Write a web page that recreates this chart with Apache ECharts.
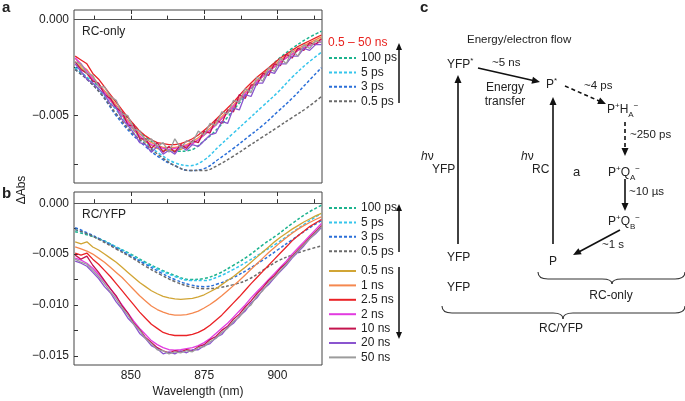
<!DOCTYPE html>
<html><head><meta charset="utf-8">
<script src="https://cdn.jsdelivr.net/npm/echarts@6/dist/echarts.min.js"></script>
<style>html,body{margin:0;padding:0;background:#fff}#c{width:685px;height:401px}</style>
</head><body><div id="c"></div><script>
// ---------- data ----------
const wl = [831,833,835,837,839,841,843,845,847,849,851,853,855,857,859,861,863,865,867,869,871,873,875,877,879,881,883,885,887,889,891,893,895,897,899,901,903,905,907,909,911,913,915];
const wlC = [831,835,840,845,850,855,860,865,870,875,880,885,890,895,900,905,910,915];

// panel a (RC-only) – solid 0.5–50 ns
const aGold = [-0.0022,-0.0025,-0.0028,-0.0031,-0.0034,-0.0038,-0.0042,-0.0046,-0.0050,-0.0054,-0.00575,-0.0061,-0.00635,-0.00655,-0.0067,-0.0068,-0.0068,-0.0068,-0.00675,-0.0066,-0.00645,-0.00625,-0.0060,-0.00575,-0.00545,-0.00515,-0.00485,-0.00455,-0.0042,-0.00385,-0.00355,-0.00325,-0.00295,-0.0027,-0.00245,-0.0022,-0.0020,-0.0018,-0.0016,-0.00145,-0.0013,-0.00115,-0.0010];
const aOrange = [-0.0020,-0.0024,-0.0026,-0.0030,-0.00335,-0.0037,-0.00405,-0.00445,-0.00485,-0.00525,-0.0056,-0.00595,-0.0062,-0.0064,-0.00655,-0.00665,-0.00665,-0.00665,-0.0066,-0.0065,-0.00635,-0.00615,-0.0059,-0.00565,-0.00535,-0.00505,-0.00475,-0.00445,-0.0041,-0.00375,-0.00345,-0.00315,-0.00285,-0.0026,-0.00235,-0.0021,-0.0019,-0.0017,-0.0015,-0.00135,-0.0012,-0.00105,-0.0009];
const aRed = [-0.0019,-0.0021,-0.0023,-0.0028,-0.0031,-0.0035,-0.0039,-0.0043,-0.0047,-0.0051,-0.00545,-0.0058,-0.00605,-0.00625,-0.0064,-0.00645,-0.0065,-0.0065,-0.00645,-0.00635,-0.0062,-0.0060,-0.00575,-0.0055,-0.0052,-0.0049,-0.0046,-0.0043,-0.00395,-0.0036,-0.0033,-0.0030,-0.00275,-0.0025,-0.00225,-0.0020,-0.0018,-0.0016,-0.0014,-0.00125,-0.0011,-0.00095,-0.0008];
const aMagenta = [-0.0020,-0.0023,-0.0027,-0.0031,-0.0034,-0.0038,-0.0042,-0.00455,-0.00495,-0.00535,-0.0057,-0.00605,-0.0063,-0.0065,-0.0066,-0.0067,-0.00675,-0.0067,-0.00665,-0.00655,-0.00645,-0.00625,-0.0060,-0.00575,-0.0055,-0.00515,-0.00485,-0.0045,-0.0042,-0.00385,-0.00355,-0.00325,-0.00295,-0.0027,-0.00245,-0.0022,-0.0020,-0.0018,-0.0016,-0.00145,-0.00135,-0.00125,-0.00115];
const aCrimson = [-0.0022,-0.0026,-0.0028,-0.0032,-0.0033,-0.0039,-0.0041,-0.0046,-0.0048,-0.0055,-0.0055,-0.0062,-0.0062,-0.0067,-0.0064,-0.0069,-0.0066,-0.0069,-0.0065,-0.0067,-0.0063,-0.0064,-0.0058,-0.0059,-0.0052,-0.0054,-0.0047,-0.0048,-0.0039,-0.0041,-0.0034,-0.0034,-0.0028,-0.0029,-0.0023,-0.0024,-0.0018,-0.0020,-0.0015,-0.0016,-0.0012,-0.0013,-0.0010];
const aPurple = [-0.0023,-0.0027,-0.0031,-0.0033,-0.0036,-0.0039,-0.0044,-0.0046,-0.0052,-0.0055,-0.0059,-0.0064,-0.0065,-0.0069,-0.0066,-0.0070,-0.0068,-0.0070,-0.0066,-0.0068,-0.0065,-0.0066,-0.0063,-0.0060,-0.0059,-0.0053,-0.0054,-0.0046,-0.0047,-0.0039,-0.0040,-0.0033,-0.0033,-0.0027,-0.0028,-0.0023,-0.0023,-0.0019,-0.0019,-0.0015,-0.0016,-0.0013,-0.0013];
const aGray = [-0.0022,-0.0023,-0.0028,-0.0029,-0.0035,-0.0035,-0.0040,-0.0042,-0.0049,-0.0050,-0.0057,-0.0058,-0.0063,-0.0062,-0.0066,-0.0064,-0.0069,-0.0062,-0.0067,-0.0063,-0.0064,-0.0058,-0.0060,-0.0054,-0.0055,-0.0048,-0.0049,-0.0042,-0.0043,-0.0036,-0.0038,-0.0030,-0.0032,-0.0025,-0.0027,-0.0020,-0.0023,-0.0016,-0.0019,-0.0013,-0.0015,-0.0011,-0.0012];
// panel a – dashed ps traces (on wlC)
const a100ps = [-0.0025,-0.0030,-0.0036,-0.0045,-0.0053,-0.0061,-0.0066,-0.00685,-0.0068,-0.0063,-0.0056,-0.0047,-0.0038,-0.0029,-0.0021,-0.0015,-0.0010,-0.0006];
const a5ps = [-0.0025,-0.0030,-0.0038,-0.0047,-0.0056,-0.0064,-0.0070,-0.00745,-0.0076,-0.0073,-0.0066,-0.0059,-0.0052,-0.0045,-0.0038,-0.0030,-0.0023,-0.0017];
const a3ps = [-0.0026,-0.0031,-0.0039,-0.0050,-0.0059,-0.0066,-0.0072,-0.0076,-0.00785,-0.00775,-0.00725,-0.0067,-0.0061,-0.0055,-0.0048,-0.0041,-0.0033,-0.0025];
const a05ps = [-0.0026,-0.0031,-0.0039,-0.0049,-0.0058,-0.0065,-0.0071,-0.0076,-0.00785,-0.00785,-0.00755,-0.0071,-0.0066,-0.0061,-0.0056,-0.0051,-0.0046,-0.0040];

// panel b (RC/YFP) – dashed ps traces (on wlC)
const b100ps = [-0.0028,-0.0031,-0.0036,-0.0043,-0.0050,-0.0058,-0.0065,-0.0071,-0.0075,-0.0074,-0.0069,-0.0061,-0.0052,-0.0041,-0.0031,-0.0020,-0.0010,-0.0002];
const b5ps = [-0.0026,-0.0030,-0.0036,-0.0043,-0.0051,-0.0059,-0.0066,-0.0072,-0.0076,-0.0076,-0.0072,-0.0065,-0.0057,-0.0048,-0.0039,-0.0029,-0.0019,-0.0010];
const b3ps = [-0.0024,-0.0029,-0.0036,-0.0044,-0.0052,-0.0060,-0.0068,-0.0075,-0.0080,-0.0082,-0.0079,-0.0073,-0.0065,-0.0056,-0.0046,-0.0036,-0.0026,-0.0017];
const b05ps = [-0.0026,-0.0030,-0.0037,-0.0045,-0.0053,-0.0062,-0.0070,-0.0077,-0.0082,-0.0084,-0.0083,-0.0080,-0.0075,-0.0066,-0.0057,-0.0051,-0.0046,-0.0042];
// panel b – solid ns traces (on wl)
const bGold = [-0.0038,-0.0040,-0.0038,-0.0043,-0.0046,-0.0050,-0.0054,-0.0058,-0.0063,-0.0068,-0.0073,-0.0078,-0.0082,-0.0086,-0.0089,-0.00915,-0.0093,-0.0094,-0.00945,-0.0094,-0.00935,-0.0092,-0.0090,-0.0087,-0.0084,-0.0080,-0.0076,-0.0072,-0.00675,-0.0063,-0.0058,-0.0053,-0.0048,-0.0043,-0.0038,-0.00335,-0.00295,-0.00255,-0.0022,-0.00185,-0.00155,-0.00125,-0.0010];
const bOrange = [-0.0043,-0.0045,-0.0047,-0.0050,-0.0054,-0.0058,-0.0063,-0.0068,-0.0073,-0.0079,-0.0085,-0.0091,-0.0096,-0.0101,-0.01045,-0.0107,-0.0109,-0.0110,-0.0110,-0.01095,-0.0108,-0.0106,-0.0103,-0.00995,-0.00955,-0.0091,-0.0086,-0.0081,-0.0076,-0.00705,-0.0065,-0.00595,-0.0054,-0.00485,-0.00435,-0.00385,-0.0034,-0.00295,-0.00255,-0.0022,-0.0019,-0.0016,-0.00135];
const bRed = [-0.0049,-0.0051,-0.0049,-0.0055,-0.0060,-0.0066,-0.0072,-0.0079,-0.0086,-0.0093,-0.0100,-0.0107,-0.0113,-0.0119,-0.0123,-0.0127,-0.0129,-0.0130,-0.0130,-0.0130,-0.0129,-0.0127,-0.0124,-0.0120,-0.0115,-0.0110,-0.0104,-0.0098,-0.0092,-0.00855,-0.0079,-0.0073,-0.0067,-0.0061,-0.0055,-0.0049,-0.0043,-0.0037,-0.0032,-0.00275,-0.0023,-0.00195,-0.0016];
const bMagenta = [-0.0054,-0.0056,-0.0059,-0.0064,-0.0070,-0.0077,-0.0084,-0.0092,-0.0100,-0.0108,-0.0116,-0.0123,-0.0129,-0.0135,-0.0139,-0.0142,-0.0144,-0.01445,-0.0144,-0.0143,-0.0142,-0.0140,-0.0137,-0.0133,-0.0128,-0.0123,-0.0118,-0.0112,-0.0106,-0.0100,-0.0093,-0.0087,-0.0081,-0.0075,-0.0069,-0.0063,-0.0057,-0.0050,-0.0044,-0.0038,-0.0032,-0.0026,-0.0020];
const bCrimson = [-0.0051,-0.0055,-0.0052,-0.0061,-0.0068,-0.0076,-0.0084,-0.0091,-0.0101,-0.0108,-0.0118,-0.0124,-0.0132,-0.0137,-0.0142,-0.0145,-0.0147,-0.0145,-0.0146,-0.0144,-0.0145,-0.0141,-0.0139,-0.0134,-0.0131,-0.0125,-0.0121,-0.0114,-0.0109,-0.0102,-0.0096,-0.0089,-0.0083,-0.0076,-0.0071,-0.0064,-0.0059,-0.0052,-0.0046,-0.0040,-0.0034,-0.0028,-0.0022];
const bPurple = [-0.0057,-0.0059,-0.0062,-0.0068,-0.0074,-0.0082,-0.0088,-0.0097,-0.0104,-0.0113,-0.0119,-0.0128,-0.0133,-0.0140,-0.0143,-0.0148,-0.0146,-0.0148,-0.0145,-0.0147,-0.0144,-0.0144,-0.0140,-0.0138,-0.0132,-0.0129,-0.0122,-0.0118,-0.0111,-0.0106,-0.0098,-0.0093,-0.0085,-0.0080,-0.0073,-0.0067,-0.0061,-0.0054,-0.0048,-0.0042,-0.0035,-0.0030,-0.0024];
const bGray = [-0.0055,-0.0058,-0.0060,-0.0066,-0.0072,-0.0079,-0.0087,-0.0094,-0.0103,-0.0110,-0.0119,-0.0125,-0.0133,-0.0138,-0.0144,-0.0145,-0.0148,-0.0146,-0.0147,-0.0145,-0.0146,-0.0142,-0.0141,-0.0136,-0.0133,-0.0127,-0.0123,-0.0116,-0.0112,-0.0104,-0.0100,-0.0091,-0.0086,-0.0078,-0.0073,-0.0066,-0.0060,-0.0053,-0.0047,-0.0041,-0.0035,-0.0029,-0.0023];

// tick values
const xLabels = [850, 875, 900];
const xTicksBottom = [837.5, 850, 862.5, 875, 887.5, 900, 912.5];
const yLabelsA = [0, -0.005];
const yTicksA = [0, -0.0025, -0.005, -0.0075];
const yLabelsB = [0, -0.005, -0.010, -0.015];
const yTicksB = [0, -0.0025, -0.005, -0.0075, -0.010, -0.0125, -0.015];

const psNames = ['100 ps', '5 ps', '3 ps', '0.5 ps'];
const nsNames = ['0.5 ns', '1 ns', '2.5 ns', '2 ns', '10 ns', '20 ns', '50 ns'];

// ---------- styling ----------
const FONT = '"Liberation Sans", Arial, Helvetica, sans-serif';
const psColors = ['#1db38e', '#35c5ec', '#2b6fd8', '#6a6a6a'];
const nsColors = ['#d1a535', '#f5884f', '#ea2226', '#e23be0', '#c4144e', '#8a55cf', '#9c9c9c'];

function pairs(xs, ys) { return xs.map((x, i) => [x, ys[i]]); }
function line(name, xs, ys, color, dashed, gi, extra) {
  return Object.assign({
    type: 'line', name, xAxisIndex: gi * 2, yAxisIndex: gi,
    data: pairs(xs, ys), symbol: 'none', smooth: dashed ? 0.4 : false,
    lineStyle: { color, width: dashed ? 1.5 : 1.3, type: dashed ? [3, 2] : 'solid' },
    itemStyle: { color }, animation: false, silent: true
  }, extra || {});
}
const zeroLine = {
  silent: true, symbol: ['none', 'none'], label: { show: false }, animation: false,
  lineStyle: { color: '#555', type: 'solid', width: 1.2 }, data: [{ yAxis: 0 }]
};

const aPs = [a100ps, a5ps, a3ps, a05ps];
const aNs = [aGold, aOrange, aRed, aMagenta, aCrimson, aPurple, aGray];
const bPs = [b100ps, b5ps, b3ps, b05ps];
const bNs = [bGold, bOrange, bRed, bMagenta, bCrimson, bPurple, bGray];

const series = [];
aPs.forEach((d, i) => series.push(line(psNames[i], wlC, d, psColors[i], true, 0, i === 0 ? { markLine: zeroLine } : {})));
aNs.forEach((d, i) => series.push(line(nsNames[i], wl, d, nsColors[i], false, 0)));
bPs.forEach((d, i) => series.push(line(psNames[i], wlC, d, psColors[i], true, 1, i === 0 ? { markLine: zeroLine } : {})));
bNs.forEach((d, i) => series.push(line(nsNames[i], wl, d, nsColors[i], false, 1)));

function yFmt(v) { return v === 0 ? '0.000' : '\u2212' + Math.abs(v).toFixed(3); }
function xAx(gi, pos, showLabels, ticks) {
  return {
    type: 'value', gridIndex: gi, position: pos, min: 830.6, max: 915.2,
    axisLine: { show: false }, splitLine: { show: false },
    axisTick: { show: true, inside: true, length: 4, customValues: ticks, lineStyle: { color: '#333', width: 1 } },
    axisLabel: { show: showLabels, customValues: xLabels, margin: 5, color: '#222', fontSize: 12, fontFamily: FONT },
    name: (showLabels ? 'Wavelength (nm)' : ''), nameLocation: 'middle', nameGap: 21,
    nameTextStyle: { color: '#222', fontSize: 12, fontFamily: FONT }
  };
}
function yAx(gi, min, max, labels, ticks) {
  return {
    type: 'value', gridIndex: gi, min, max,
    axisLine: { show: false }, splitLine: { show: false },
    axisTick: { show: true, inside: true, length: 4, customValues: ticks, lineStyle: { color: '#333', width: 1 } },
    axisLabel: { customValues: labels, formatter: yFmt, margin: 5, color: '#222', fontSize: 12, fontFamily: FONT }
  };
}

function legend(names, top) {
  return {
    orient: 'vertical', left: 328, top, padding: 0, itemWidth: 27, itemHeight: 12, itemGap: 2.4,
    selectedMode: false, data: names, itemStyle: { opacity: 0 },
    textStyle: { color: '#222', fontSize: 12, fontFamily: FONT }
  };
}

// ---------- diagram helpers (panel c & annotations) ----------
const G = [];
function txt(x, y, text, o) {
  G.push({ type: 'text', x, y, silent: true, style: Object.assign({
    text, fill: '#222', fontSize: 12, fontFamily: FONT, align: 'left', verticalAlign: 'middle'
  }, o || {}) });
}
const chemRich = {
  sup: { fontSize: 8, fontFamily: FONT, fill: '#222', verticalAlign: 'top', lineHeight: 8 },
  sub: { fontSize: 8, fontFamily: FONT, fill: '#222', verticalAlign: 'bottom', lineHeight: 8 },
  it: { fontSize: 12, fontFamily: FONT, fill: '#222', fontStyle: 'italic' }
};
function chem(x, y, text) { txt(x, y, text, { rich: chemRich, lineHeight: 17 }); }
function arrow(x1, y1, x2, y2, dashed, hl, hw, lw) {
  hl = hl || 8; hw = hw || 3.5; lw = lw || 1.6;
  const dx = x2 - x1, dy = y2 - y1, L = Math.hypot(dx, dy), ux = dx / L, uy = dy / L;
  const bx = x2 - ux * hl, by = y2 - uy * hl;
  G.push({ type: 'line', silent: true, shape: { x1, y1, x2: bx + ux * 1, y2: by + uy * 1 },
    style: { stroke: '#111', lineWidth: lw, lineDash: dashed ? [4, 3] : null } });
  G.push({ type: 'polygon', silent: true, shape: { points: [[x2, y2], [bx - uy * hw, by + ux * hw], [bx + uy * hw, by - ux * hw]] },
    style: { fill: '#111' } });
}
function seg(shape, type) {
  G.push({ type, silent: true, shape, style: { stroke: '#333', lineWidth: 1.1, fill: null } });
}
function brace(x1, x2, xm, y0, y1, tip) {
  seg({ x1: x1, y1: y0, x2: x1 + 10, y2: y1, cpx1: x1, cpy1: y1 }, 'bezierCurve');
  seg({ x1: x1 + 10, y1: y1, x2: xm - 10, y2: y1 }, 'line');
  seg({ x1: xm - 10, y1: y1, x2: xm, y2: tip, cpx1: xm, cpy1: y1 }, 'bezierCurve');
  seg({ x1: xm, y1: tip, x2: xm + 10, y2: y1, cpx1: xm, cpy1: y1 }, 'bezierCurve');
  seg({ x1: xm + 10, y1: y1, x2: x2 - 10, y2: y1 }, 'line');
  seg({ x1: x2 - 10, y1: y1, x2: x2, y2: y0, cpx1: x2, cpy1: y1 }, 'bezierCurve');
}

// panel letters, axis title, panel tags
txt(2, 8, 'a', { fontSize: 15, fontWeight: 'bold' });
txt(2, 194, 'b', { fontSize: 15, fontWeight: 'bold' });
txt(420, 8, 'c', { fontSize: 15, fontWeight: 'bold' });
G.push({ type: 'text', x: 22, y: 190, rotation: Math.PI / 2, silent: true,
  style: { text: '\u0394Abs', fill: '#222', fontSize: 12, fontFamily: FONT, align: 'center', verticalAlign: 'middle' } });
txt(82, 32, 'RC-only');
txt(82, 215, 'RC/YFP');
txt(328, 43, '0.5 \u2013 50 ns', { fill: '#e8231f' });
// legend arrows
arrow(399, 103, 399, 43, false, 7, 3, 1.5);
arrow(399, 252, 399, 204, false, 7, 3, 1.5);
arrow(399, 267, 399, 339, false, 7, 3, 1.5);

// panel c
txt(467, 40, 'Energy/electron flow', { fontSize: 11.5 });
chem(447, 65, 'YFP{sup|*}');
arrow(478, 68, 540, 82, false);
txt(492, 63, '~5 ns', { fontSize: 11.5 });
txt(505, 88, 'Energy', { align: 'center' });
txt(505, 102, 'transfer', { align: 'center' });
chem(546, 85, 'P{sup|*}');
arrow(565, 86, 606, 104, true);
txt(584, 86, '~4 ps', { fontSize: 11.5 });
chem(607, 110, 'P{sup|+}H{sub|A}{sup|\u2212}');
arrow(625, 122, 625, 156, true);
txt(630, 135, '~250 ps', { fontSize: 11.5 });
chem(608, 173, 'P{sup|+}Q{sub|A}{sup|\u2212}');
arrow(625, 179, 625, 211, false);
txt(629, 192, '~10 \u00b5s', { fontSize: 11.5 });
chem(608, 222, 'P{sup|+}Q{sub|B}{sup|\u2212}');
arrow(620, 230, 573, 255, false);
txt(602, 245, '~1 s', { fontSize: 11.5 });
txt(549, 262, 'P');
arrow(458, 244, 458, 75, false);
arrow(553, 244, 553, 97, false);
chem(421, 157, '{it|h}\u03bd');
txt(432, 170, 'YFP');
chem(521, 157, '{it|h}\u03bd');
txt(532, 170, 'RC');
txt(573, 172, 'a', { fontSize: 13 });
txt(447, 258, 'YFP');
txt(447, 288, 'YFP');
brace(538, 685, 612, 272, 279, 284);
txt(611, 296, 'RC-only', { align: 'center' });
brace(442, 685, 563, 306, 313, 319);
txt(561, 329, 'RC/YFP', { align: 'center' });

// panel b series use the second pair of x axes
series.forEach(s => { s.xAxisIndex = s.yAxisIndex === 1 ? 2 : 0; });

const option = {
  backgroundColor: '#fff',
  animation: false,
  grid: [
    { left: 74, top: 10, width: 248, height: 173, show: true, borderColor: '#444', borderWidth: 1, backgroundColor: 'transparent' },
    { left: 74, top: 192, width: 248, height: 173, show: true, borderColor: '#444', borderWidth: 1, backgroundColor: 'transparent' }
  ],
  xAxis: [
    xAx(0, 'bottom', false, xTicksBottom),
    xAx(0, 'top', false, xLabels),
    xAx(1, 'bottom', true, xTicksBottom),
    xAx(1, 'top', false, xLabels)
  ],
  yAxis: [
    yAx(0, -0.0085, 0.0005, yLabelsA, yTicksA),
    yAx(1, -0.0159, 0.0011, yLabelsB, yTicksB)
  ],
  legend: [
    legend(psNames, 52),
    legend(psNames, 202),
    legend(nsNames, 265)
  ],
  series,
  graphic: { elements: G }
};

const chart = echarts.init(document.getElementById('c'), null, { renderer: 'canvas' });
chart.setOption(option);
</script></body></html>
